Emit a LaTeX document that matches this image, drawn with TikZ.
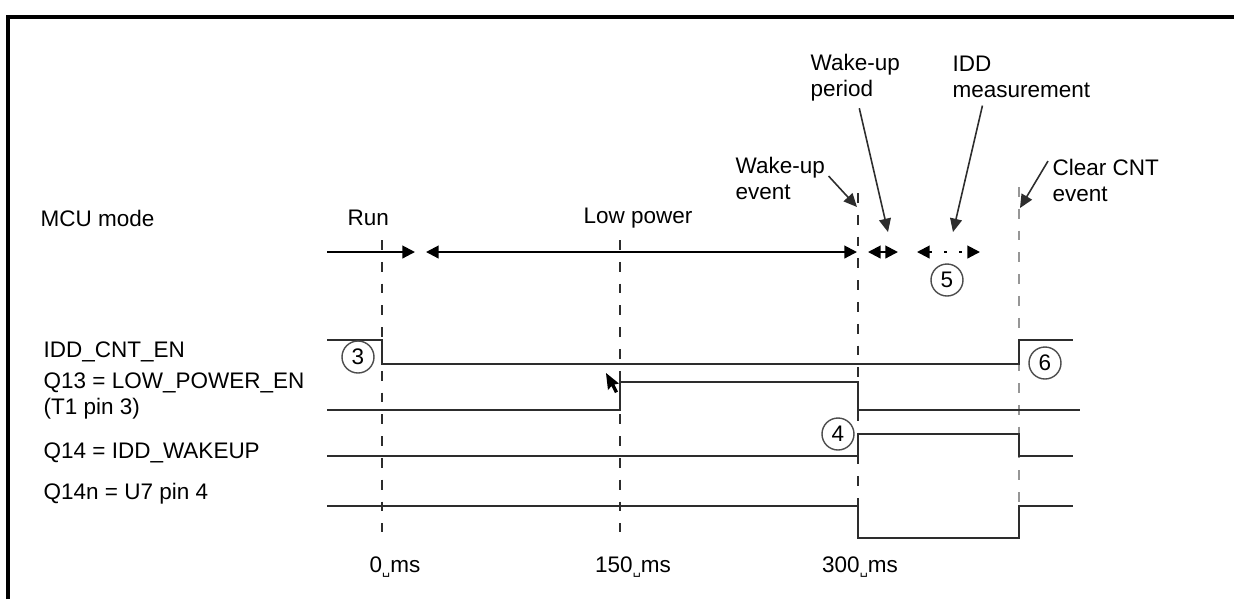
\documentclass[tikz,border=0pt]{standalone}
\usepackage{fontspec}
\setmainfont{Liberation Sans}
\newfontfamily\symfont{DejaVu Sans}
\usetikzlibrary{arrows.meta,positioning}
\definecolor{SignalGray}{RGB}{45,45,45}
\definecolor{MarkerGray}{RGB}{150,150,150}
\tikzset{
  sig/.style={line width=0.6pt,SignalGray},
  timeline/.style={line width=0.5pt,SignalGray,dash pattern=on 2.8pt off 3.4pt},
  span/.style={line width=0.6pt,{Triangle[length=3.6pt,width=3.6pt]}-{Triangle[length=3.6pt,width=3.6pt]}},
  callout/.style={line width=0.45pt,SignalGray,-{Triangle[length=3.8pt,width=3.4pt]}},
  lbl/.style={inner sep=0pt,font=\fontsize{6.4}{7.4}\selectfont,align=left},
  tagcirc/.style={circle,draw=SignalGray!85,line width=0.4pt,minimum size=0.32cm,inner sep=0pt,
    font=\fontsize{6.4}{7.4}\selectfont}
}
\newcommand{\vsp}{{\symfont\fontsize{3.6}{4}\selectfont\raisebox{-0.8pt}{␣}}}
\newcommand{\tagnum}[4]{%
  \node[tagcirc] (#1) at (#2,#3) {#4};}

\begin{document}
\begin{tikzpicture}[x=1cm,y=-1cm]
  \useasboundingbox (0,0) rectangle (12.34,5.99);
  % frame
  \draw[line width=1pt] (0.08,5.99)--(0.08,0.17)--(12.34,0.17);
  % signal names
  \node[lbl,anchor=west] (mcu) at (0.40,2.18) {MCU mode};
  \node[lbl,anchor=west] (cnten) at (0.43,3.52) {IDD\_CNT\_EN};
  \node[lbl,anchor=west] (q13) at (0.43,3.96) {Q13 = LOW\_POWER\_EN\\(T1 pin 3)};
  \node[lbl,anchor=west] (q14) at (0.43,4.53) {Q14 = IDD\_WAKEUP};
  \node[lbl,anchor=west] (q14n) at (0.43,4.94) {Q14n = U7 pin 4};
  % mode labels
  \node[lbl,anchor=west] (run) at (3.47,2.18) {Run};
  \node[lbl,anchor=west] (lowpwr) at (5.83,2.18) {Low power};
  % time markers
  \draw[timeline] (3.82,2.40)--(3.82,5.32);
  \draw[timeline] (6.20,2.40)--(6.20,5.32);
  \draw[timeline] (8.58,1.93)--(8.58,5.38);
  \draw[timeline,MarkerGray] (10.19,1.87)--(10.19,5.38);
  % mode row
  \coordinate (modeL) at (3.27,2.52);
  \coordinate (runE) at (4.15,2.52);
  \coordinate (lpS) at (4.26,2.52);
  \coordinate (lpE) at (8.57,2.52);
  \coordinate (wkS) at (8.68,2.52);
  \coordinate (wkE) at (8.98,2.52);
  \coordinate (iddS) at (9.17,2.52);
  \coordinate (iddE) at (9.80,2.52);
  \draw[line width=0.6pt,-{Triangle[length=3.6pt,width=3.6pt]}] (modeL)--(runE);
  \draw[span] (lpS)--(lpE);
  \draw[span] (wkS)--(wkE);
  \draw[span,dash pattern=on 0.8pt off 3.5pt] (iddS)--(iddE);
  \tagnum{n5}{9.47}{2.80}{5}
  % waveforms
  \draw[sig] (3.27,3.40)--(3.82,3.40)--(3.82,3.64)--(10.19,3.64)--(10.19,3.40)--(10.73,3.40);
  \draw[sig] (3.27,4.10)--(6.20,4.10)--(6.20,3.82)--(8.58,3.82)--(8.58,4.10)--(10.80,4.10);
  \draw[sig] (3.27,4.56)--(8.58,4.56)--(8.58,4.34)--(10.19,4.34)--(10.19,4.56)--(10.73,4.56);
  \draw[sig] (3.27,5.06)--(8.58,5.06)--(8.58,5.38)--(10.19,5.38)--(10.19,5.06)--(10.73,5.06);
  \tagnum{n3}{3.58}{3.57}{3}
  \tagnum{n4}{8.38}{4.34}{4}
  \tagnum{n6}{10.45}{3.63}{6}
  % pointer
  \fill[black] (6.06,3.73)--(6.08,3.90)--(6.115,3.86)--(6.15,3.93)--(6.18,3.915)
    --(6.145,3.845)--(6.19,3.835)--cycle;
  % time labels
  \node[lbl] (t0) at (3.95,5.67) {0\vsp ms};
  \node[lbl] (t150) at (6.33,5.67) {150\vsp ms};
  \node[lbl] (t300) at (8.60,5.67) {300\vsp ms};
  % callouts
  \node[lbl,anchor=west] (wkper) at (8.10,0.78) {Wake-up\\period};
  \node[lbl,anchor=west] (iddm) at (9.52,0.77) {IDD\\measurement};
  \node[lbl,anchor=west] (wkev) at (7.35,1.78) {Wake-up\\event};
  \node[lbl,anchor=west] (clr) at (10.52,1.80) {Clear CNT\\event};
  \coordinate (wkperTip) at (8.88,2.32);
  \coordinate (iddmTip) at (9.53,2.32);
  \coordinate (wkevTip) at (8.57,2.07);
  \coordinate (clrTip) at (10.20,2.08);
  \draw[callout] (wkper.south) ++(0.04,0.06) -- (wkperTip);
  \draw[callout] (iddm.south) ++(-0.39,0.07) -- (iddmTip);
  \draw[callout] (wkev.north east) ++(0.03,0.2) -- (wkevTip);
  \draw[callout] (clr.north west) ++(-0.04,0.03) -- (clrTip);
\end{tikzpicture}
\end{document}
